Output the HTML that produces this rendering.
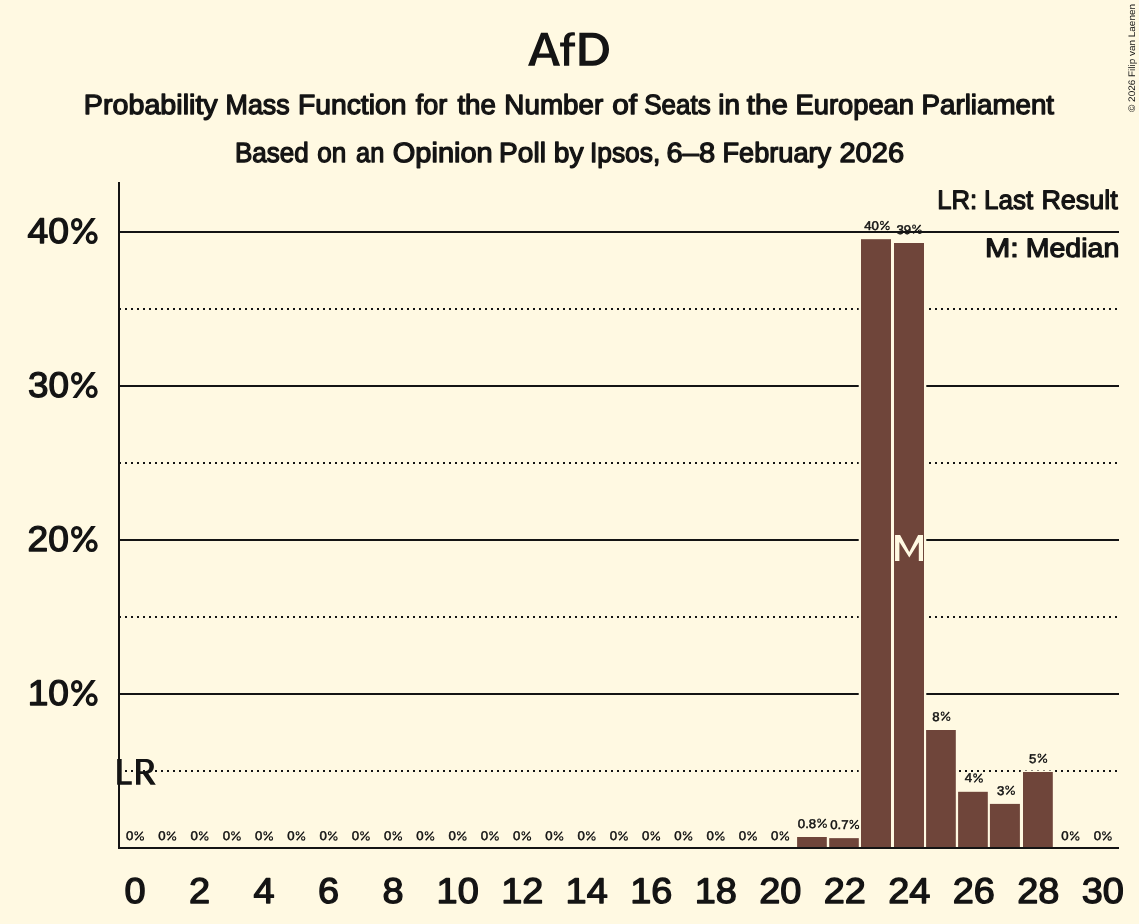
<!DOCTYPE html>
<html><head><meta charset="utf-8"><style>
html,body{margin:0;padding:0;background:#FFF9E2;}
svg{display:block;font-family:"Liberation Sans", sans-serif;will-change:transform;text-rendering:geometricPrecision;}
</style></head><body>
<svg width="1139" height="924" viewBox="0 0 1139 924">
<rect x="0" y="0" width="1139" height="924" fill="#FFF9E2"/>
<path fill-rule="evenodd" fill="#141414" d="M528.0,65.7 L541.05,32.8 L547.6,32.8 L560.1,65.7 L553.5,65.7 L551.2,57.8 L537.1,57.8 L534.7,65.7 Z M539.0,53.45 L549.45,53.45 L544.4,38.6 Z"/>
<path fill="#141414" d="M564.0,65.7 L564.0,46.4 L560.1,46.4 L560.1,42.55 L564.0,42.55 L564.0,40.5 C564.0,35.3 567.0,32.3 572.0,32.3 C573.2,32.3 574.2,32.4 574.9,32.6 L574.9,35.6 C574.2,35.5 573.6,35.5 572.9,35.5 C570.5,35.5 569.2,37.0 569.2,40.3 L569.2,42.55 L575.1,42.55 L575.1,46.4 L569.2,46.4 L569.2,65.7 Z"/>
<path fill-rule="evenodd" fill="#141414" d="M579.4,32.8 L592.5,32.8 C602.6,32.8 609.0,39.5 609.0,49.25 C609.0,59.0 602.6,65.7 592.5,65.7 L579.4,65.7 Z M585.55,37.8 L592.3,37.8 C598.9,37.8 602.8,42.3 602.8,49.25 C602.8,56.2 598.9,60.7 592.3,60.7 L585.55,60.7 Z"/>
<text x="83.83" y="113.55" font-size="27.7" font-weight="normal" text-anchor="start" fill="#141414" textLength="133.88" lengthAdjust="spacingAndGlyphs" stroke="#141414" stroke-width="1.3" stroke-linejoin="round">Probability</text>
<text x="225.57" y="113.55" font-size="27.7" font-weight="normal" text-anchor="start" fill="#141414" textLength="64.07" lengthAdjust="spacingAndGlyphs" stroke="#141414" stroke-width="1.3" stroke-linejoin="round">Mass</text>
<text x="297.95" y="113.55" font-size="27.7" font-weight="normal" text-anchor="start" fill="#141414" textLength="108.53" lengthAdjust="spacingAndGlyphs" stroke="#141414" stroke-width="1.3" stroke-linejoin="round">Function</text>
<text x="415.72" y="113.55" font-size="27.7" font-weight="normal" text-anchor="start" fill="#141414" textLength="31.5" lengthAdjust="spacingAndGlyphs" stroke="#141414" stroke-width="1.3" stroke-linejoin="round">for</text>
<text x="457.42" y="113.55" font-size="27.7" font-weight="normal" text-anchor="start" fill="#141414" textLength="38.53" lengthAdjust="spacingAndGlyphs" stroke="#141414" stroke-width="1.3" stroke-linejoin="round">the</text>
<text x="504.36" y="113.55" font-size="27.7" font-weight="normal" text-anchor="start" fill="#141414" textLength="98.91" lengthAdjust="spacingAndGlyphs" stroke="#141414" stroke-width="1.3" stroke-linejoin="round">Number</text>
<text x="612.24" y="113.55" font-size="27.7" font-weight="normal" text-anchor="start" fill="#141414" textLength="24.93" lengthAdjust="spacingAndGlyphs" stroke="#141414" stroke-width="1.3" stroke-linejoin="round">of</text>
<text x="644.28" y="113.55" font-size="27.7" font-weight="normal" text-anchor="start" fill="#141414" textLength="66.45" lengthAdjust="spacingAndGlyphs" stroke="#141414" stroke-width="1.3" stroke-linejoin="round">Seats</text>
<text x="718.22" y="113.55" font-size="27.7" font-weight="normal" text-anchor="start" fill="#141414" textLength="21.74" lengthAdjust="spacingAndGlyphs" stroke="#141414" stroke-width="1.3" stroke-linejoin="round">in</text>
<text x="746.82" y="113.55" font-size="27.7" font-weight="normal" text-anchor="start" fill="#141414" textLength="41.01" lengthAdjust="spacingAndGlyphs" stroke="#141414" stroke-width="1.3" stroke-linejoin="round">the</text>
<text x="795.43" y="113.55" font-size="27.7" font-weight="normal" text-anchor="start" fill="#141414" textLength="118.63" lengthAdjust="spacingAndGlyphs" stroke="#141414" stroke-width="1.3" stroke-linejoin="round">European</text>
<text x="921.57" y="113.55" font-size="27.7" font-weight="normal" text-anchor="start" fill="#141414" textLength="132.43" lengthAdjust="spacingAndGlyphs" stroke="#141414" stroke-width="1.3" stroke-linejoin="round">Parliament</text>
<text x="234.97" y="161.55" font-size="27.7" font-weight="normal" text-anchor="start" fill="#141414" textLength="73.83" lengthAdjust="spacingAndGlyphs" stroke="#141414" stroke-width="1.3" stroke-linejoin="round">Based</text>
<text x="317.34" y="161.55" font-size="27.7" font-weight="normal" text-anchor="start" fill="#141414" textLength="29.01" lengthAdjust="spacingAndGlyphs" stroke="#141414" stroke-width="1.3" stroke-linejoin="round">on</text>
<text x="356.05" y="161.55" font-size="27.7" font-weight="normal" text-anchor="start" fill="#141414" textLength="28.22" lengthAdjust="spacingAndGlyphs" stroke="#141414" stroke-width="1.3" stroke-linejoin="round">an</text>
<text x="392.82" y="161.55" font-size="27.7" font-weight="normal" text-anchor="start" fill="#141414" textLength="99.93" lengthAdjust="spacingAndGlyphs" stroke="#141414" stroke-width="1.3" stroke-linejoin="round">Opinion</text>
<text x="499.13" y="161.55" font-size="27.7" font-weight="normal" text-anchor="start" fill="#141414" textLength="46.77" lengthAdjust="spacingAndGlyphs" stroke="#141414" stroke-width="1.3" stroke-linejoin="round">Poll</text>
<text x="553.86" y="161.55" font-size="27.7" font-weight="normal" text-anchor="start" fill="#141414" textLength="29.78" lengthAdjust="spacingAndGlyphs" stroke="#141414" stroke-width="1.3" stroke-linejoin="round">by</text>
<text x="589.93" y="161.55" font-size="27.7" font-weight="normal" text-anchor="start" fill="#141414" textLength="70.34" lengthAdjust="spacingAndGlyphs" stroke="#141414" stroke-width="1.3" stroke-linejoin="round">Ipsos,</text>
<text x="666.64" y="161.55" font-size="27.7" font-weight="normal" text-anchor="start" fill="#141414" textLength="48.59" lengthAdjust="spacingAndGlyphs" stroke="#141414" stroke-width="1.3" stroke-linejoin="round">6–8</text>
<text x="722.46" y="161.55" font-size="27.7" font-weight="normal" text-anchor="start" fill="#141414" textLength="108.66" lengthAdjust="spacingAndGlyphs" stroke="#141414" stroke-width="1.3" stroke-linejoin="round">February</text>
<text x="839.41" y="161.55" font-size="27.7" font-weight="normal" text-anchor="start" fill="#141414" textLength="64.65" lengthAdjust="spacingAndGlyphs" stroke="#141414" stroke-width="1.3" stroke-linejoin="round">2026</text>
<text transform="translate(1135.4,112) rotate(-90)" x="0" y="0" font-size="9.5" font-weight="normal" fill="#141414" textLength="108" lengthAdjust="spacingAndGlyphs">© 2026 Filip van Laenen</text>
<line x1="120" y1="694.0" x2="1119" y2="694.0" stroke="#141414" stroke-width="2"/>
<line x1="120" y1="540.0" x2="1119" y2="540.0" stroke="#141414" stroke-width="2"/>
<line x1="120" y1="386.0" x2="1119" y2="386.0" stroke="#141414" stroke-width="2"/>
<line x1="120" y1="232.0" x2="1119" y2="232.0" stroke="#141414" stroke-width="2"/>
<line x1="119" y1="771.0" x2="1119" y2="771.0" stroke="#141414" stroke-width="2" stroke-dasharray="2,4"/>
<line x1="119" y1="617.0" x2="1119" y2="617.0" stroke="#141414" stroke-width="2" stroke-dasharray="2,4"/>
<line x1="119" y1="463.0" x2="1119" y2="463.0" stroke="#141414" stroke-width="2" stroke-dasharray="2,4"/>
<line x1="119" y1="309.0" x2="1119" y2="309.0" stroke="#141414" stroke-width="2" stroke-dasharray="2,4"/>
<rect x="794.80" y="835.50" width="34.30" height="12.50" fill="#FFF9E2"/>
<rect x="826.90" y="836.65" width="34.20" height="11.35" fill="#FFF9E2"/>
<rect x="858.70" y="237.70" width="34.60" height="610.30" fill="#FFF9E2"/>
<rect x="891.70" y="241.50" width="34.60" height="606.50" fill="#FFF9E2"/>
<rect x="923.80" y="728.50" width="34.30" height="119.50" fill="#FFF9E2"/>
<rect x="955.80" y="790.30" width="34.30" height="57.70" fill="#FFF9E2"/>
<rect x="987.60" y="802.40" width="34.60" height="45.60" fill="#FFF9E2"/>
<rect x="1020.70" y="770.50" width="34.40" height="77.50" fill="#FFF9E2"/>
<rect x="797.10" y="837.00" width="29.70" height="11.00" fill="#6F453A"/>
<rect x="829.20" y="838.15" width="29.60" height="9.85" fill="#6F453A"/>
<rect x="861.00" y="239.20" width="30.00" height="608.80" fill="#6F453A"/>
<rect x="894.00" y="243.00" width="30.00" height="605.00" fill="#6F453A"/>
<rect x="926.10" y="730.00" width="29.70" height="118.00" fill="#6F453A"/>
<rect x="958.10" y="791.80" width="29.70" height="56.20" fill="#6F453A"/>
<rect x="989.90" y="803.90" width="30.00" height="44.10" fill="#6F453A"/>
<rect x="1023.00" y="772.00" width="29.80" height="76.00" fill="#6F453A"/>
<text x="125.91" y="840.27" font-size="12.7" font-weight="normal" fill="#141414" stroke="#141414" stroke-width="0.5" textLength="7.35" lengthAdjust="spacingAndGlyphs">0</text>
<ellipse cx="136.24" cy="833.32" rx="1.42" ry="1.62" fill="none" stroke="#141414" stroke-width="1.1"/>
<ellipse cx="141.91" cy="838.38" rx="1.64" ry="1.7" fill="none" stroke="#141414" stroke-width="1.1"/>
<line x1="142.79" y1="831.64" x2="135.39" y2="840.19" stroke="#141414" stroke-width="1.35" stroke-linecap="butt"/>
<text x="158.16" y="840.27" font-size="12.7" font-weight="normal" fill="#141414" stroke="#141414" stroke-width="0.5" textLength="7.35" lengthAdjust="spacingAndGlyphs">0</text>
<ellipse cx="168.49" cy="833.32" rx="1.42" ry="1.62" fill="none" stroke="#141414" stroke-width="1.1"/>
<ellipse cx="174.16" cy="838.38" rx="1.64" ry="1.7" fill="none" stroke="#141414" stroke-width="1.1"/>
<line x1="175.04" y1="831.64" x2="167.64" y2="840.19" stroke="#141414" stroke-width="1.35" stroke-linecap="butt"/>
<text x="190.42" y="840.27" font-size="12.7" font-weight="normal" fill="#141414" stroke="#141414" stroke-width="0.5" textLength="7.35" lengthAdjust="spacingAndGlyphs">0</text>
<ellipse cx="200.75" cy="833.32" rx="1.42" ry="1.62" fill="none" stroke="#141414" stroke-width="1.1"/>
<ellipse cx="206.42" cy="838.38" rx="1.64" ry="1.7" fill="none" stroke="#141414" stroke-width="1.1"/>
<line x1="207.30" y1="831.64" x2="199.90" y2="840.19" stroke="#141414" stroke-width="1.35" stroke-linecap="butt"/>
<text x="222.68" y="840.27" font-size="12.7" font-weight="normal" fill="#141414" stroke="#141414" stroke-width="0.5" textLength="7.35" lengthAdjust="spacingAndGlyphs">0</text>
<ellipse cx="233.01" cy="833.32" rx="1.42" ry="1.62" fill="none" stroke="#141414" stroke-width="1.1"/>
<ellipse cx="238.68" cy="838.38" rx="1.64" ry="1.7" fill="none" stroke="#141414" stroke-width="1.1"/>
<line x1="239.56" y1="831.64" x2="232.16" y2="840.19" stroke="#141414" stroke-width="1.35" stroke-linecap="butt"/>
<text x="254.94" y="840.27" font-size="12.7" font-weight="normal" fill="#141414" stroke="#141414" stroke-width="0.5" textLength="7.35" lengthAdjust="spacingAndGlyphs">0</text>
<ellipse cx="265.27" cy="833.32" rx="1.42" ry="1.62" fill="none" stroke="#141414" stroke-width="1.1"/>
<ellipse cx="270.94" cy="838.38" rx="1.64" ry="1.7" fill="none" stroke="#141414" stroke-width="1.1"/>
<line x1="271.82" y1="831.64" x2="264.42" y2="840.19" stroke="#141414" stroke-width="1.35" stroke-linecap="butt"/>
<text x="287.20" y="840.27" font-size="12.7" font-weight="normal" fill="#141414" stroke="#141414" stroke-width="0.5" textLength="7.35" lengthAdjust="spacingAndGlyphs">0</text>
<ellipse cx="297.53" cy="833.32" rx="1.42" ry="1.62" fill="none" stroke="#141414" stroke-width="1.1"/>
<ellipse cx="303.20" cy="838.38" rx="1.64" ry="1.7" fill="none" stroke="#141414" stroke-width="1.1"/>
<line x1="304.08" y1="831.64" x2="296.68" y2="840.19" stroke="#141414" stroke-width="1.35" stroke-linecap="butt"/>
<text x="319.45" y="840.27" font-size="12.7" font-weight="normal" fill="#141414" stroke="#141414" stroke-width="0.5" textLength="7.35" lengthAdjust="spacingAndGlyphs">0</text>
<ellipse cx="329.78" cy="833.32" rx="1.42" ry="1.62" fill="none" stroke="#141414" stroke-width="1.1"/>
<ellipse cx="335.45" cy="838.38" rx="1.64" ry="1.7" fill="none" stroke="#141414" stroke-width="1.1"/>
<line x1="336.33" y1="831.64" x2="328.93" y2="840.19" stroke="#141414" stroke-width="1.35" stroke-linecap="butt"/>
<text x="351.71" y="840.27" font-size="12.7" font-weight="normal" fill="#141414" stroke="#141414" stroke-width="0.5" textLength="7.35" lengthAdjust="spacingAndGlyphs">0</text>
<ellipse cx="362.04" cy="833.32" rx="1.42" ry="1.62" fill="none" stroke="#141414" stroke-width="1.1"/>
<ellipse cx="367.71" cy="838.38" rx="1.64" ry="1.7" fill="none" stroke="#141414" stroke-width="1.1"/>
<line x1="368.59" y1="831.64" x2="361.19" y2="840.19" stroke="#141414" stroke-width="1.35" stroke-linecap="butt"/>
<text x="383.97" y="840.27" font-size="12.7" font-weight="normal" fill="#141414" stroke="#141414" stroke-width="0.5" textLength="7.35" lengthAdjust="spacingAndGlyphs">0</text>
<ellipse cx="394.30" cy="833.32" rx="1.42" ry="1.62" fill="none" stroke="#141414" stroke-width="1.1"/>
<ellipse cx="399.97" cy="838.38" rx="1.64" ry="1.7" fill="none" stroke="#141414" stroke-width="1.1"/>
<line x1="400.85" y1="831.64" x2="393.45" y2="840.19" stroke="#141414" stroke-width="1.35" stroke-linecap="butt"/>
<text x="416.23" y="840.27" font-size="12.7" font-weight="normal" fill="#141414" stroke="#141414" stroke-width="0.5" textLength="7.35" lengthAdjust="spacingAndGlyphs">0</text>
<ellipse cx="426.56" cy="833.32" rx="1.42" ry="1.62" fill="none" stroke="#141414" stroke-width="1.1"/>
<ellipse cx="432.23" cy="838.38" rx="1.64" ry="1.7" fill="none" stroke="#141414" stroke-width="1.1"/>
<line x1="433.11" y1="831.64" x2="425.71" y2="840.19" stroke="#141414" stroke-width="1.35" stroke-linecap="butt"/>
<text x="448.49" y="840.27" font-size="12.7" font-weight="normal" fill="#141414" stroke="#141414" stroke-width="0.5" textLength="7.35" lengthAdjust="spacingAndGlyphs">0</text>
<ellipse cx="458.82" cy="833.32" rx="1.42" ry="1.62" fill="none" stroke="#141414" stroke-width="1.1"/>
<ellipse cx="464.49" cy="838.38" rx="1.64" ry="1.7" fill="none" stroke="#141414" stroke-width="1.1"/>
<line x1="465.37" y1="831.64" x2="457.97" y2="840.19" stroke="#141414" stroke-width="1.35" stroke-linecap="butt"/>
<text x="480.74" y="840.27" font-size="12.7" font-weight="normal" fill="#141414" stroke="#141414" stroke-width="0.5" textLength="7.35" lengthAdjust="spacingAndGlyphs">0</text>
<ellipse cx="491.07" cy="833.32" rx="1.42" ry="1.62" fill="none" stroke="#141414" stroke-width="1.1"/>
<ellipse cx="496.74" cy="838.38" rx="1.64" ry="1.7" fill="none" stroke="#141414" stroke-width="1.1"/>
<line x1="497.62" y1="831.64" x2="490.22" y2="840.19" stroke="#141414" stroke-width="1.35" stroke-linecap="butt"/>
<text x="513.00" y="840.27" font-size="12.7" font-weight="normal" fill="#141414" stroke="#141414" stroke-width="0.5" textLength="7.35" lengthAdjust="spacingAndGlyphs">0</text>
<ellipse cx="523.33" cy="833.32" rx="1.42" ry="1.62" fill="none" stroke="#141414" stroke-width="1.1"/>
<ellipse cx="529.00" cy="838.38" rx="1.64" ry="1.7" fill="none" stroke="#141414" stroke-width="1.1"/>
<line x1="529.88" y1="831.64" x2="522.48" y2="840.19" stroke="#141414" stroke-width="1.35" stroke-linecap="butt"/>
<text x="545.26" y="840.27" font-size="12.7" font-weight="normal" fill="#141414" stroke="#141414" stroke-width="0.5" textLength="7.35" lengthAdjust="spacingAndGlyphs">0</text>
<ellipse cx="555.59" cy="833.32" rx="1.42" ry="1.62" fill="none" stroke="#141414" stroke-width="1.1"/>
<ellipse cx="561.26" cy="838.38" rx="1.64" ry="1.7" fill="none" stroke="#141414" stroke-width="1.1"/>
<line x1="562.14" y1="831.64" x2="554.74" y2="840.19" stroke="#141414" stroke-width="1.35" stroke-linecap="butt"/>
<text x="577.52" y="840.27" font-size="12.7" font-weight="normal" fill="#141414" stroke="#141414" stroke-width="0.5" textLength="7.35" lengthAdjust="spacingAndGlyphs">0</text>
<ellipse cx="587.85" cy="833.32" rx="1.42" ry="1.62" fill="none" stroke="#141414" stroke-width="1.1"/>
<ellipse cx="593.52" cy="838.38" rx="1.64" ry="1.7" fill="none" stroke="#141414" stroke-width="1.1"/>
<line x1="594.40" y1="831.64" x2="587.00" y2="840.19" stroke="#141414" stroke-width="1.35" stroke-linecap="butt"/>
<text x="609.78" y="840.27" font-size="12.7" font-weight="normal" fill="#141414" stroke="#141414" stroke-width="0.5" textLength="7.35" lengthAdjust="spacingAndGlyphs">0</text>
<ellipse cx="620.11" cy="833.32" rx="1.42" ry="1.62" fill="none" stroke="#141414" stroke-width="1.1"/>
<ellipse cx="625.78" cy="838.38" rx="1.64" ry="1.7" fill="none" stroke="#141414" stroke-width="1.1"/>
<line x1="626.66" y1="831.64" x2="619.26" y2="840.19" stroke="#141414" stroke-width="1.35" stroke-linecap="butt"/>
<text x="642.04" y="840.27" font-size="12.7" font-weight="normal" fill="#141414" stroke="#141414" stroke-width="0.5" textLength="7.35" lengthAdjust="spacingAndGlyphs">0</text>
<ellipse cx="652.36" cy="833.32" rx="1.42" ry="1.62" fill="none" stroke="#141414" stroke-width="1.1"/>
<ellipse cx="658.03" cy="838.38" rx="1.64" ry="1.7" fill="none" stroke="#141414" stroke-width="1.1"/>
<line x1="658.91" y1="831.64" x2="651.51" y2="840.19" stroke="#141414" stroke-width="1.35" stroke-linecap="butt"/>
<text x="674.29" y="840.27" font-size="12.7" font-weight="normal" fill="#141414" stroke="#141414" stroke-width="0.5" textLength="7.35" lengthAdjust="spacingAndGlyphs">0</text>
<ellipse cx="684.62" cy="833.32" rx="1.42" ry="1.62" fill="none" stroke="#141414" stroke-width="1.1"/>
<ellipse cx="690.29" cy="838.38" rx="1.64" ry="1.7" fill="none" stroke="#141414" stroke-width="1.1"/>
<line x1="691.17" y1="831.64" x2="683.77" y2="840.19" stroke="#141414" stroke-width="1.35" stroke-linecap="butt"/>
<text x="706.55" y="840.27" font-size="12.7" font-weight="normal" fill="#141414" stroke="#141414" stroke-width="0.5" textLength="7.35" lengthAdjust="spacingAndGlyphs">0</text>
<ellipse cx="716.88" cy="833.32" rx="1.42" ry="1.62" fill="none" stroke="#141414" stroke-width="1.1"/>
<ellipse cx="722.55" cy="838.38" rx="1.64" ry="1.7" fill="none" stroke="#141414" stroke-width="1.1"/>
<line x1="723.43" y1="831.64" x2="716.03" y2="840.19" stroke="#141414" stroke-width="1.35" stroke-linecap="butt"/>
<text x="738.81" y="840.27" font-size="12.7" font-weight="normal" fill="#141414" stroke="#141414" stroke-width="0.5" textLength="7.35" lengthAdjust="spacingAndGlyphs">0</text>
<ellipse cx="749.14" cy="833.32" rx="1.42" ry="1.62" fill="none" stroke="#141414" stroke-width="1.1"/>
<ellipse cx="754.81" cy="838.38" rx="1.64" ry="1.7" fill="none" stroke="#141414" stroke-width="1.1"/>
<line x1="755.69" y1="831.64" x2="748.29" y2="840.19" stroke="#141414" stroke-width="1.35" stroke-linecap="butt"/>
<text x="771.07" y="840.27" font-size="12.7" font-weight="normal" fill="#141414" stroke="#141414" stroke-width="0.5" textLength="7.35" lengthAdjust="spacingAndGlyphs">0</text>
<ellipse cx="781.40" cy="833.32" rx="1.42" ry="1.62" fill="none" stroke="#141414" stroke-width="1.1"/>
<ellipse cx="787.07" cy="838.38" rx="1.64" ry="1.7" fill="none" stroke="#141414" stroke-width="1.1"/>
<line x1="787.95" y1="831.64" x2="780.55" y2="840.19" stroke="#141414" stroke-width="1.35" stroke-linecap="butt"/>
<text x="797.85" y="827.63" font-size="12.7" font-weight="normal" fill="#141414" stroke="#141414" stroke-width="0.5" textLength="18.36" lengthAdjust="spacingAndGlyphs">0.8</text>
<ellipse cx="819.13" cy="820.68" rx="1.42" ry="1.62" fill="none" stroke="#141414" stroke-width="1.1"/>
<ellipse cx="824.80" cy="825.74" rx="1.64" ry="1.7" fill="none" stroke="#141414" stroke-width="1.1"/>
<line x1="825.68" y1="819.00" x2="818.28" y2="827.55" stroke="#141414" stroke-width="1.35" stroke-linecap="butt"/>
<text x="830.15" y="828.78" font-size="12.7" font-weight="normal" fill="#141414" stroke="#141414" stroke-width="0.5" textLength="18.36" lengthAdjust="spacingAndGlyphs">0.7</text>
<ellipse cx="851.35" cy="821.83" rx="1.42" ry="1.62" fill="none" stroke="#141414" stroke-width="1.1"/>
<ellipse cx="857.02" cy="826.89" rx="1.64" ry="1.7" fill="none" stroke="#141414" stroke-width="1.1"/>
<line x1="857.90" y1="820.15" x2="850.50" y2="828.70" stroke="#141414" stroke-width="1.35" stroke-linecap="butt"/>
<text x="864.28" y="229.83" font-size="12.7" font-weight="normal" fill="#141414" stroke="#141414" stroke-width="0.5" textLength="14.69" lengthAdjust="spacingAndGlyphs">40</text>
<ellipse cx="881.95" cy="222.88" rx="1.42" ry="1.62" fill="none" stroke="#141414" stroke-width="1.1"/>
<ellipse cx="887.62" cy="227.94" rx="1.64" ry="1.7" fill="none" stroke="#141414" stroke-width="1.1"/>
<line x1="888.50" y1="221.20" x2="881.10" y2="229.75" stroke="#141414" stroke-width="1.35" stroke-linecap="butt"/>
<text x="896.49" y="233.63" font-size="12.7" font-weight="normal" fill="#141414" stroke="#141414" stroke-width="0.5" textLength="14.69" lengthAdjust="spacingAndGlyphs">39</text>
<ellipse cx="914.05" cy="226.68" rx="1.42" ry="1.62" fill="none" stroke="#141414" stroke-width="1.1"/>
<ellipse cx="919.72" cy="231.74" rx="1.64" ry="1.7" fill="none" stroke="#141414" stroke-width="1.1"/>
<line x1="920.60" y1="225.00" x2="913.20" y2="233.55" stroke="#141414" stroke-width="1.35" stroke-linecap="butt"/>
<text x="932.36" y="720.63" font-size="12.7" font-weight="normal" fill="#141414" stroke="#141414" stroke-width="0.5" textLength="7.35" lengthAdjust="spacingAndGlyphs">8</text>
<ellipse cx="942.63" cy="713.68" rx="1.42" ry="1.62" fill="none" stroke="#141414" stroke-width="1.1"/>
<ellipse cx="948.30" cy="718.74" rx="1.64" ry="1.7" fill="none" stroke="#141414" stroke-width="1.1"/>
<line x1="949.18" y1="712.00" x2="941.78" y2="720.55" stroke="#141414" stroke-width="1.35" stroke-linecap="butt"/>
<text x="964.66" y="782.43" font-size="12.7" font-weight="normal" fill="#141414" stroke="#141414" stroke-width="0.5" textLength="7.35" lengthAdjust="spacingAndGlyphs">4</text>
<ellipse cx="975.12" cy="775.48" rx="1.42" ry="1.62" fill="none" stroke="#141414" stroke-width="1.1"/>
<ellipse cx="980.79" cy="780.54" rx="1.64" ry="1.7" fill="none" stroke="#141414" stroke-width="1.1"/>
<line x1="981.67" y1="773.80" x2="974.27" y2="782.35" stroke="#141414" stroke-width="1.35" stroke-linecap="butt"/>
<text x="996.91" y="794.53" font-size="12.7" font-weight="normal" fill="#141414" stroke="#141414" stroke-width="0.5" textLength="7.35" lengthAdjust="spacingAndGlyphs">3</text>
<ellipse cx="1007.18" cy="787.58" rx="1.42" ry="1.62" fill="none" stroke="#141414" stroke-width="1.1"/>
<ellipse cx="1012.85" cy="792.64" rx="1.64" ry="1.7" fill="none" stroke="#141414" stroke-width="1.1"/>
<line x1="1013.73" y1="785.90" x2="1006.33" y2="794.45" stroke="#141414" stroke-width="1.35" stroke-linecap="butt"/>
<text x="1029.14" y="762.63" font-size="12.7" font-weight="normal" fill="#141414" stroke="#141414" stroke-width="0.5" textLength="7.35" lengthAdjust="spacingAndGlyphs">5</text>
<ellipse cx="1039.44" cy="755.68" rx="1.42" ry="1.62" fill="none" stroke="#141414" stroke-width="1.1"/>
<ellipse cx="1045.11" cy="760.74" rx="1.64" ry="1.7" fill="none" stroke="#141414" stroke-width="1.1"/>
<line x1="1045.99" y1="754.00" x2="1038.59" y2="762.55" stroke="#141414" stroke-width="1.35" stroke-linecap="butt"/>
<text x="1061.39" y="840.27" font-size="12.7" font-weight="normal" fill="#141414" stroke="#141414" stroke-width="0.5" textLength="7.35" lengthAdjust="spacingAndGlyphs">0</text>
<ellipse cx="1071.72" cy="833.32" rx="1.42" ry="1.62" fill="none" stroke="#141414" stroke-width="1.1"/>
<ellipse cx="1077.39" cy="838.38" rx="1.64" ry="1.7" fill="none" stroke="#141414" stroke-width="1.1"/>
<line x1="1078.27" y1="831.64" x2="1070.87" y2="840.19" stroke="#141414" stroke-width="1.35" stroke-linecap="butt"/>
<text x="1093.65" y="840.27" font-size="12.7" font-weight="normal" fill="#141414" stroke="#141414" stroke-width="0.5" textLength="7.35" lengthAdjust="spacingAndGlyphs">0</text>
<ellipse cx="1103.98" cy="833.32" rx="1.42" ry="1.62" fill="none" stroke="#141414" stroke-width="1.1"/>
<ellipse cx="1109.65" cy="838.38" rx="1.64" ry="1.7" fill="none" stroke="#141414" stroke-width="1.1"/>
<line x1="1110.53" y1="831.64" x2="1103.13" y2="840.19" stroke="#141414" stroke-width="1.35" stroke-linecap="butt"/>
<line x1="120" y1="232.0" x2="1119" y2="232.0" stroke="#141414" stroke-width="2"/>
<line x1="119" y1="182" x2="119" y2="849" stroke="#141414" stroke-width="2"/>
<line x1="118" y1="848" x2="1119" y2="848" stroke="#141414" stroke-width="2"/>
<text x="27.72" y="704.70" font-size="35.6" font-weight="normal" text-anchor="start" fill="#141414" textLength="41.28" lengthAdjust="spacingAndGlyphs" stroke="#141414" stroke-width="1.3" stroke-linejoin="round">10</text>
<ellipse cx="76.7" cy="686.30" rx="4.0" ry="4.7" fill="none" stroke="#141414" stroke-width="3.4"/>
<ellipse cx="91.7" cy="699.70" rx="4.3" ry="4.7" fill="none" stroke="#141414" stroke-width="3.4"/>
<polygon points="91.1,679.90 95.8,679.90 76.9,706.10 72.5,706.10" fill="#141414"/>
<text x="27.63" y="550.70" font-size="35.6" font-weight="normal" text-anchor="start" fill="#141414" textLength="41.37" lengthAdjust="spacingAndGlyphs" stroke="#141414" stroke-width="1.3" stroke-linejoin="round">20</text>
<ellipse cx="76.7" cy="532.30" rx="4.0" ry="4.7" fill="none" stroke="#141414" stroke-width="3.4"/>
<ellipse cx="91.7" cy="545.70" rx="4.3" ry="4.7" fill="none" stroke="#141414" stroke-width="3.4"/>
<polygon points="91.1,525.90 95.8,525.90 76.9,552.10 72.5,552.10" fill="#141414"/>
<text x="27.94" y="396.70" font-size="35.6" font-weight="normal" text-anchor="start" fill="#141414" textLength="41.05" lengthAdjust="spacingAndGlyphs" stroke="#141414" stroke-width="1.3" stroke-linejoin="round">30</text>
<ellipse cx="76.7" cy="378.30" rx="4.0" ry="4.7" fill="none" stroke="#141414" stroke-width="3.4"/>
<ellipse cx="91.7" cy="391.70" rx="4.3" ry="4.7" fill="none" stroke="#141414" stroke-width="3.4"/>
<polygon points="91.1,371.90 95.8,371.90 76.9,398.10 72.5,398.10" fill="#141414"/>
<text x="27.49" y="242.70" font-size="35.6" font-weight="normal" text-anchor="start" fill="#141414" textLength="41.51" lengthAdjust="spacingAndGlyphs" stroke="#141414" stroke-width="1.3" stroke-linejoin="round">40</text>
<ellipse cx="76.7" cy="224.30" rx="4.0" ry="4.7" fill="none" stroke="#141414" stroke-width="3.4"/>
<ellipse cx="91.7" cy="237.70" rx="4.3" ry="4.7" fill="none" stroke="#141414" stroke-width="3.4"/>
<polygon points="91.1,217.90 95.8,217.90 76.9,244.10 72.5,244.10" fill="#141414"/>
<text x="135.13" y="903.05" font-size="35.8" font-weight="normal" text-anchor="middle" fill="#141414" textLength="21.1" lengthAdjust="spacingAndGlyphs" stroke="#141414" stroke-width="1.3" stroke-linejoin="round">0</text>
<text x="199.65" y="903.05" font-size="35.8" font-weight="normal" text-anchor="middle" fill="#141414" textLength="21.1" lengthAdjust="spacingAndGlyphs" stroke="#141414" stroke-width="1.3" stroke-linejoin="round">2</text>
<text x="264.16" y="903.05" font-size="35.8" font-weight="normal" text-anchor="middle" fill="#141414" textLength="21.1" lengthAdjust="spacingAndGlyphs" stroke="#141414" stroke-width="1.3" stroke-linejoin="round">4</text>
<text x="328.68" y="903.05" font-size="35.8" font-weight="normal" text-anchor="middle" fill="#141414" textLength="21.1" lengthAdjust="spacingAndGlyphs" stroke="#141414" stroke-width="1.3" stroke-linejoin="round">6</text>
<text x="393.19" y="903.05" font-size="35.8" font-weight="normal" text-anchor="middle" fill="#141414" textLength="21.1" lengthAdjust="spacingAndGlyphs" stroke="#141414" stroke-width="1.3" stroke-linejoin="round">8</text>
<text x="457.71" y="903.05" font-size="35.8" font-weight="normal" text-anchor="middle" fill="#141414" textLength="42.21" lengthAdjust="spacingAndGlyphs" stroke="#141414" stroke-width="1.3" stroke-linejoin="round">10</text>
<text x="522.23" y="903.05" font-size="35.8" font-weight="normal" text-anchor="middle" fill="#141414" textLength="42.21" lengthAdjust="spacingAndGlyphs" stroke="#141414" stroke-width="1.3" stroke-linejoin="round">12</text>
<text x="586.74" y="903.05" font-size="35.8" font-weight="normal" text-anchor="middle" fill="#141414" textLength="42.21" lengthAdjust="spacingAndGlyphs" stroke="#141414" stroke-width="1.3" stroke-linejoin="round">14</text>
<text x="651.26" y="903.05" font-size="35.8" font-weight="normal" text-anchor="middle" fill="#141414" textLength="42.21" lengthAdjust="spacingAndGlyphs" stroke="#141414" stroke-width="1.3" stroke-linejoin="round">16</text>
<text x="715.77" y="903.05" font-size="35.8" font-weight="normal" text-anchor="middle" fill="#141414" textLength="42.21" lengthAdjust="spacingAndGlyphs" stroke="#141414" stroke-width="1.3" stroke-linejoin="round">18</text>
<text x="780.29" y="903.05" font-size="35.8" font-weight="normal" text-anchor="middle" fill="#141414" textLength="42.21" lengthAdjust="spacingAndGlyphs" stroke="#141414" stroke-width="1.3" stroke-linejoin="round">20</text>
<text x="844.81" y="903.05" font-size="35.8" font-weight="normal" text-anchor="middle" fill="#141414" textLength="42.21" lengthAdjust="spacingAndGlyphs" stroke="#141414" stroke-width="1.3" stroke-linejoin="round">22</text>
<text x="909.32" y="903.05" font-size="35.8" font-weight="normal" text-anchor="middle" fill="#141414" textLength="42.21" lengthAdjust="spacingAndGlyphs" stroke="#141414" stroke-width="1.3" stroke-linejoin="round">24</text>
<text x="973.84" y="903.05" font-size="35.8" font-weight="normal" text-anchor="middle" fill="#141414" textLength="42.21" lengthAdjust="spacingAndGlyphs" stroke="#141414" stroke-width="1.3" stroke-linejoin="round">26</text>
<text x="1038.35" y="903.05" font-size="35.8" font-weight="normal" text-anchor="middle" fill="#141414" textLength="42.21" lengthAdjust="spacingAndGlyphs" stroke="#141414" stroke-width="1.3" stroke-linejoin="round">28</text>
<text x="1102.87" y="903.05" font-size="35.8" font-weight="normal" text-anchor="middle" fill="#141414" textLength="42.21" lengthAdjust="spacingAndGlyphs" stroke="#141414" stroke-width="1.3" stroke-linejoin="round">30</text>
<text x="937.19" y="209.10" font-size="26.8" font-weight="normal" text-anchor="start" fill="#141414" textLength="39.95" lengthAdjust="spacingAndGlyphs" stroke="#141414" stroke-width="1.2" stroke-linejoin="round">LR:</text>
<text x="984.05" y="209.10" font-size="26.8" font-weight="normal" text-anchor="start" fill="#141414" textLength="49.06" lengthAdjust="spacingAndGlyphs" stroke="#141414" stroke-width="1.2" stroke-linejoin="round">Last</text>
<text x="1041.41" y="209.10" font-size="26.8" font-weight="normal" text-anchor="start" fill="#141414" textLength="76.42" lengthAdjust="spacingAndGlyphs" stroke="#141414" stroke-width="1.2" stroke-linejoin="round">Result</text>
<text x="985.00" y="257.20" font-size="26.6" font-weight="normal" text-anchor="start" fill="#141414" textLength="33.76" lengthAdjust="spacingAndGlyphs" stroke="#141414" stroke-width="1.2" stroke-linejoin="round">M:</text>
<text x="1025.75" y="257.20" font-size="26.6" font-weight="normal" text-anchor="start" fill="#141414" textLength="93.54" lengthAdjust="spacingAndGlyphs" stroke="#141414" stroke-width="1.2" stroke-linejoin="round">Median</text>
<path d="M117.15,759.0 H121.67 V781.2 H131.8 V784.7 H117.15 Z" fill="#141414"/>
<path fill-rule="evenodd" d="M136.0,784.7 L136.0,759.0 L145.2,759.0 C150.9,759.0 153.9,761.9 153.9,766.4 C153.9,770.0 151.8,772.6 148.3,773.4 L155.8,784.7 L150.5,784.7 L143.0,774.0 L140.45,774.0 L140.45,784.7 Z M140.45,762.1 L145.0,762.1 C148.0,762.1 149.4,763.9 149.4,766.5 C149.4,769.3 147.8,771.2 145.0,771.2 L140.45,771.2 Z" fill="#141414"/>
<polygon points="895.05,560.9 895.05,534.94 900.1,534.94 909.3,552.1 918.1,534.94 923.0,534.94 923.0,560.9 918.8,560.9 918.8,542.2 909.3,557.6 899.4,542.0 899.4,560.9" fill="#FFF9E2"/>
</svg>
</body></html>
